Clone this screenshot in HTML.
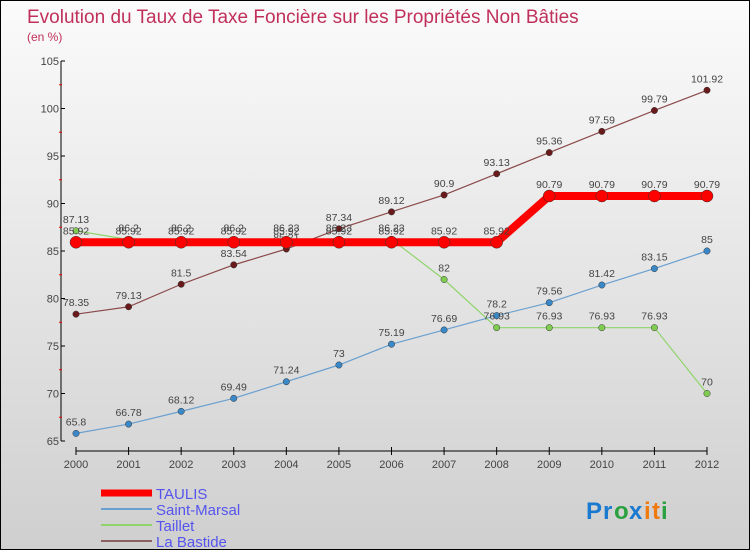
<!DOCTYPE html>
<html><head><meta charset="utf-8"><style>
body{margin:0}
#c{width:748px;height:548px;border:1px solid #000;background:linear-gradient(#fbfbfb,#cfcfcf);position:relative;font-family:"Liberation Sans",sans-serif;overflow:hidden}
</style></head><body>
<div id="c">
<svg id="s" width="748" height="548" style="position:absolute;left:0;top:0"></svg>
</div>
<script>
const years=[2000,2001,2002,2003,2004,2005,2006,2007,2008,2009,2010,2011,2012];
const yTicks=[65,70,75,80,85,90,95,100,105];
const taulis=[85.92,85.92,85.92,85.92,85.92,85.92,85.92,85.92,85.92,90.79,90.79,90.79,90.79];
const saintMarsal=[65.8,66.78,68.12,69.49,71.24,73,75.19,76.69,78.2,79.56,81.42,83.15,85];
const taillet=[87.13,86.2,86.2,86.2,86.23,86.23,86.23,82,76.93,76.93,76.93,76.93,70];
const laBastide=[78.35,79.13,81.5,83.54,85.21,87.34,89.12,90.9,93.13,95.36,97.59,99.79,101.92];
const s=document.getElementById('s');const NS='http://www.w3.org/2000/svg';
const X=i=>75+i*(706-75)/12, Y=v=>440-(v-65)*9.5;
function mk(t,a,p){const e=document.createElementNS(NS,t);for(const k in a)e.setAttribute(k,a[k]);(p||s).appendChild(e);return e;}
function tx(x,y,str,size,fill,anchor){const e=mk('text',{x:x,y:y,'font-size':size,fill:fill,'text-anchor':anchor||'start'});e.textContent=str;return e;}
let t=tx(26,22,'Evolution du Taux de Taxe Foncière sur les Propriétés Non Bâties',19,'#c0305a');

t=tx(26,40,'(en %)',12,'#c0305a');

let a=mk('line',{x1:60,y1:60,x2:60,y2:440,stroke:'#000'});

yTicks.forEach((v,i)=>{mk('line',{x1:60,y1:Y(v),x2:64,y2:Y(v),stroke:'#000'});
 if(i<yTicks.length-1)mk('line',{x1:58,y1:Y(v+2.5),x2:61,y2:Y(v+2.5),stroke:'#e00'});
 const l=tx(58,Y(v)+4,String(v),11,'#444','end');});
a=mk('line',{x1:75,y1:450,x2:706,y2:450,stroke:'#000'});

years.forEach((y,i)=>{mk('line',{x1:X(i),y1:446,x2:X(i),y2:454,stroke:'#000'});
 const l=tx(X(i),467,String(y),11,'#444','middle');});
function series(vals,col,dot,w,r,name){
 const g=mk('g',{});
 mk('polyline',{points:vals.map((v,i)=>X(i)+','+Y(v)).join(' '),fill:'none',stroke:col,'stroke-width':w},g);
 vals.forEach((v,i)=>{const c=mk('circle',{cx:X(i),cy:Y(v),r:r,fill:dot,stroke:'#333','stroke-width':0.5},g);
  
  tx(X(i),Y(v)-8,String(v),10.5,'#444','middle');});
}
series(laBastide,'#8b4a4a','#6a1a1a',1.2,3.2,'la-bastide');
series(saintMarsal,'#6aa0d0','#3a88c8',1.2,3.2,'saint-marsal');
series(taillet,'#8fd46a','#80cc50',1.2,3.2,'taillet');
series(taulis,'#f00','#f00',8,6,'taulis');
const leg=[['TAULIS','#f00',7],['Saint-Marsal','#6aa0d0',2],['Taillet','#8fd46a',2],['La Bastide','#8b6060',2]];
leg.forEach((e,i)=>{const y=492+i*16;const g=mk('g',{});
 mk('line',{x1:100,y1:y,x2:151,y2:y,stroke:e[1],'stroke-width':e[2]},g);
 const l=tx(155,y+6,e[0],15,'#5555ee');g.appendChild(l);});
const p=[['P','#1a7ad0',17],['r','#1a7ad0',11],['o','#2aa040',15],['x','#1a7ad0',15],['i','#f07a10',8],['t','#f07a10',9],['i','#2aa040',8]];
let px=585;p.forEach(c=>{const l=tx(px,518,c[0],24,c[1]);l.setAttribute('font-weight','bold');px+=c[2];});
</script>
</body></html>
